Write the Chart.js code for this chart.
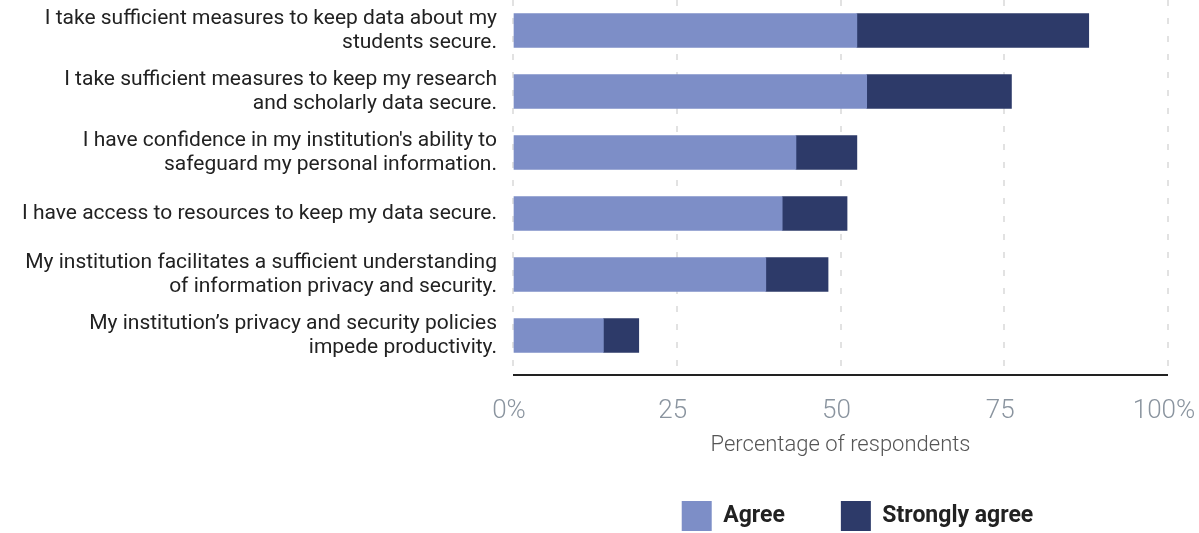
<!DOCTYPE html>
<html>
<head>
<meta charset="utf-8">
<script src="https://cdn.jsdelivr.net/npm/chart.js@4"></script>
<style>
  body { margin: 0; background: #fff; }
  canvas { display: block; }
</style>
</head>
<body>
<canvas id="chart" width="1199" height="533"></canvas>
<script>
const categories = [
  ['I take sufficient measures to keep data about my', 'students secure.'],
  ['I take sufficient measures to keep my research', 'and scholarly data secure.'],
  ["I have confidence in my institution's ability to", 'safeguard my personal information.'],
  ['I have access to resources to keep my data secure.'],
  ['My institution facilitates a sufficient understanding', 'of information privacy and security.'],
  ['My institution’s privacy and security policies', 'impede productivity.']
]
const agree = [52.5, 54.0, 43.2, 41.1, 38.6, 13.8]
const stronglyAgree = [35.4, 22.1, 9.3, 9.9, 9.5, 5.4]
const xTickValues = [0, 25, 50, 75, 100]
const xTickLabels = ['0%', '25', '50', '75', '100%']

const FONT = 'Roboto, "Open Sans", sans-serif'

// solid baseline a little below the plot, like the original
const axisLine = {
  id: 'axisLine',
  afterDatasetsDraw(chart) {
    const { ctx, chartArea, scales: { x } } = chart
    const y = chartArea.bottom + 9
    ctx.save()
    ctx.strokeStyle = '#222'
    ctx.lineWidth = 2
    ctx.beginPath()
    ctx.moveTo(x.left, y)
    ctx.lineTo(x.right, y)
    ctx.stroke()
    ctx.restore()
  }
}

// legend sits a bit right of the plot centre in the original
const legendNudge = {
  id: 'legendNudge',
  afterLayout(chart) {
    chart.legend.left += 17
    chart.legend.right += 17
  }
}

new Chart(document.getElementById('chart').getContext('2d'), {
  type: 'bar',
  data: {
    labels: categories,
    datasets: [
      { label: 'Agree', data: agree, backgroundColor: '#7d8ec7', barThickness: 34 },
      { label: 'Strongly agree', data: stronglyAgree, backgroundColor: '#2d3a69', barThickness: 34 }
    ]
  },
  options: {
    indexAxis: 'y',
    responsive: false,
    animation: false,
    layout: { padding: { left: 0, right: 31, top: 0, bottom: -8 } },
    plugins: {
      tooltip: { enabled: false },
      legend: {
        position: 'bottom',
        fullSize: false,
        labels: {
          boxWidth: 30,
          boxHeight: 30,
          padding: 56,
          color: '#222',
          font: { family: FONT, size: 23, weight: 'bold' }
        }
      }
    },
    scales: {
      x: {
        stacked: true,
        min: 0,
        max: 100,
        afterBuildTicks: s => { s.ticks = xTickValues.map(v => ({ value: v })) },
        afterFit: s => {
          s.height = 79
          s.paddingLeft = 0
          s.paddingRight = 0
        },
        grid: {
          color: '#e2e2e2',
          lineWidth: 2,
          drawTicks: false
        },
        border: { display: false, dash: [6, 12] },
        ticks: {
          callback: (v, i) => xTickLabels[i],
          color: '#8a949f',
          padding: 30,
          labelOffset: -4,
          font: { family: FONT, size: 26, weight: '300' }
        },
        title: {
          display: true,
          text: 'Percentage of respondents',
          color: '#555',
          padding: { top: 0, bottom: -14 },
          font: { family: FONT, size: 22, weight: '300' }
        }
      },
      y: {
        stacked: true,
        afterFit: s => {
          s.width = 513
          s.paddingTop = 0
          s.paddingBottom = 0
        },
        grid: { display: false },
        border: { display: false },
        ticks: {
          autoSkip: false,
          color: '#222',
          padding: 8,
          font: { family: FONT, size: 21, lineHeight: 1.15 }
        }
      }
    }
  },
  plugins: [axisLine, legendNudge]
})
</script>
</body>
</html>
